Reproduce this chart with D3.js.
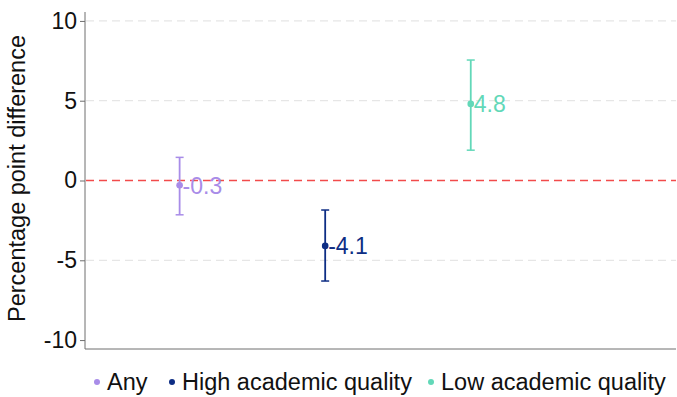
<!DOCTYPE html>
<html>
<head>
<meta charset="utf-8">
<script src="https://cdn.jsdelivr.net/npm/d3@7"></script>
<style>
  body{margin:0;background:#fff;}
  text{font-family:"Liberation Sans",Arial,sans-serif;}
</style>
</head>
<body>
<svg id="chart"></svg>
<script>
var groups = ["Any","High academic quality","Low academic quality"];
var estimates = [-0.3,-4.1,4.8];
var lower = [-2.15,-6.3,1.9];
var upper = [1.45,-1.85,7.55];
var colors = ["#a88ce8","#0d2d84","#62d8b8"];
var yTicks = [-10,-5,0,5,10];

var width=677, height=397;
var margins={top:12,bot:48,left:85,right:1};

var svg = d3.select("#chart")
            .attr("width",width)
            .attr("height",height);

var xScale = d3.scaleLinear()
               .domain([0.35,4.41])
               .range([margins.left,width-margins.right]);
var yScale = d3.scaleLinear()
               .domain([-10.56,10.56])
               .range([height-margins.bot,margins.top]);

// grid lines
svg.selectAll("line.grid")
   .data(yTicks.filter(function(d){return d!=0 && d!=-10;}))
   .enter()
   .append("line")
   .attr("class","grid")
   .attr("x1",margins.left+1)
   .attr("x2",width-margins.right)
   .attr("y1",function(d){return yScale(d);})
   .attr("y2",function(d){return yScale(d);})
   .attr("stroke","#e6e6e6")
   .attr("stroke-width",1.3)
   .attr("stroke-dasharray","8,5");

// zero line
svg.append("line")
   .attr("x1",margins.left+1)
   .attr("x2",width-margins.right)
   .attr("y1",yScale(0))
   .attr("y2",yScale(0))
   .attr("stroke","#f24b4b")
   .attr("stroke-width",1.5)
   .attr("stroke-dasharray","8,5");

// axes
var yAxis = d3.axisLeft(yScale)
              .tickValues(yTicks)
              .tickSize(5)
              .tickPadding(3)
              .tickFormat(function(d){return String(d);});
var gy = svg.append("g")
   .attr("transform","translate("+margins.left+",0)")
   .call(yAxis);
gy.select(".domain").attr("stroke","#6e6e6e").attr("d","M0,"+margins.top+"V"+(height-margins.bot));
gy.selectAll(".tick line").attr("stroke","#6e6e6e");
gy.selectAll(".tick text")
  .style("font-size","23px")
  .attr("fill","#111")
  .style("font-family","'Liberation Sans',Arial,sans-serif");

svg.append("line")
   .attr("x1",margins.left)
   .attr("x2",width-margins.right)
   .attr("y1",height-margins.bot)
   .attr("y2",height-margins.bot)
   .attr("stroke","#6e6e6e");

svg.append("text")
   .attr("transform","translate(25,"+(yScale(0)-2)+") rotate(-90)")
   .attr("text-anchor","middle")
   .style("font-size","23.5px")
   .attr("fill","#111")
   .text("Percentage point difference");

// error bars and points
var pts = svg.selectAll("g.pt")
   .data(groups)
   .enter()
   .append("g")
   .attr("class","pt");

pts.append("line")
   .attr("x1",function(d,i){return xScale(i+1);})
   .attr("x2",function(d,i){return xScale(i+1);})
   .attr("y1",function(d,i){return yScale(lower[i]);})
   .attr("y2",function(d,i){return yScale(upper[i]);})
   .attr("stroke",function(d,i){return colors[i];})
   .attr("stroke-width",1.8);
[lower,upper].forEach(function(arr){
  pts.append("line")
     .attr("x1",function(d,i){return xScale(i+1)-4;})
     .attr("x2",function(d,i){return xScale(i+1)+4;})
     .attr("y1",function(d,i){return yScale(arr[i]);})
     .attr("y2",function(d,i){return yScale(arr[i]);})
     .attr("stroke",function(d,i){return colors[i];})
     .attr("stroke-width",1.5);
});
pts.append("circle")
   .attr("cx",function(d,i){return xScale(i+1);})
   .attr("cy",function(d,i){return yScale(estimates[i]);})
   .attr("r",3.3)
   .attr("fill",function(d,i){return colors[i];});
pts.append("text")
   .attr("x",function(d,i){return xScale(i+1)+3;})
   .attr("y",function(d,i){return yScale(estimates[i]);})
   .attr("dy","0.36em")
   .style("font-size","23px")
   .attr("fill",function(d,i){return colors[i];})
   .text(function(d,i){return estimates[i].toFixed(1);});

// legend
var legX = [97,172,431];
var leg = svg.selectAll("g.leg")
   .data(groups)
   .enter()
   .append("g")
   .attr("class","leg")
   .attr("transform",function(d,i){return "translate("+legX[i]+",382)";});
leg.append("circle")
   .attr("r",3)
   .attr("fill",function(d,i){return colors[i];});
leg.append("text")
   .attr("x",10)
   .attr("dy","0.36em")
   .style("font-size","23.5px")
   .attr("fill","#111")
   .text(function(d){return d;});
</script>
</body>
</html>
